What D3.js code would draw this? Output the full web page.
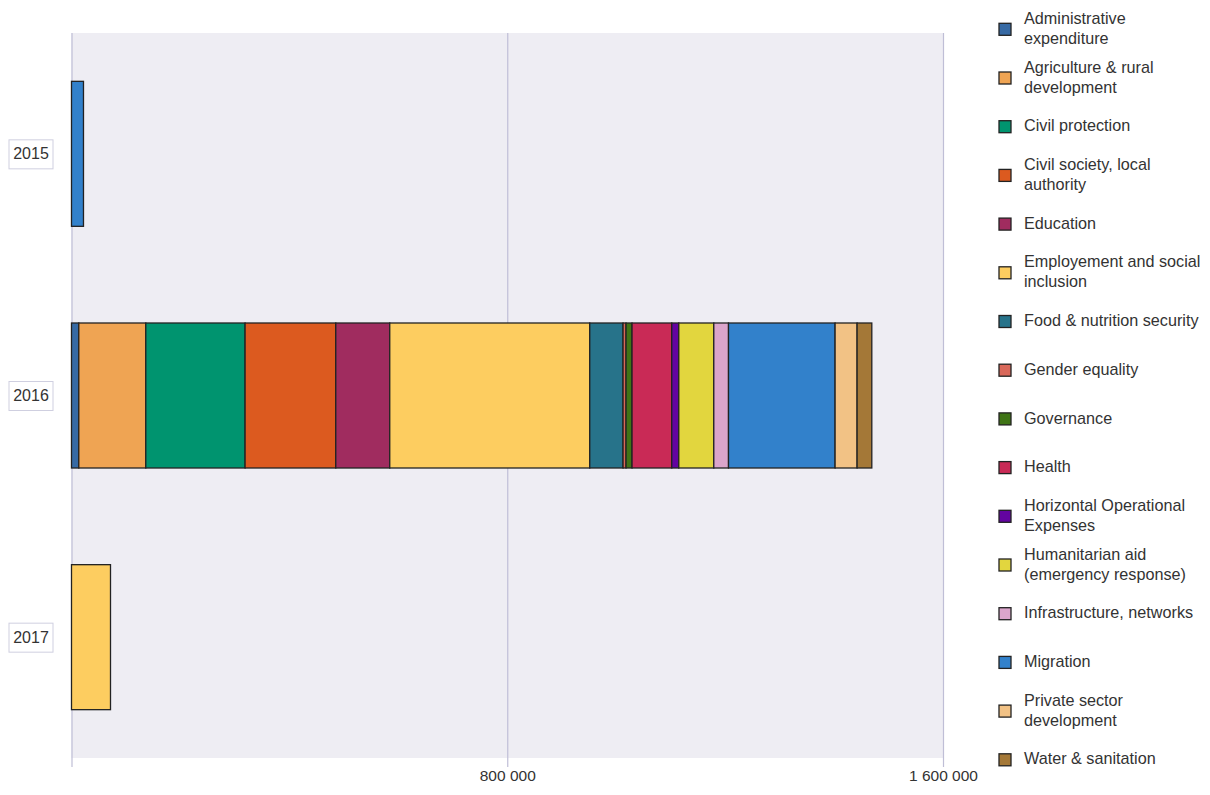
<!DOCTYPE html>
<html>
<head>
<meta charset="utf-8">
<script src="https://cdn.jsdelivr.net/npm/d3@7"></script>
<style>
  body { margin: 0; background: #fff; }
  svg text { font-family: "Liberation Sans", Arial, sans-serif; fill: #333; }
</style>
</head>
<body>
<div id="chart"></div>
<script>
'use strict'

// data
const years = ['2015', '2016', '2017']
const sectors = [
  'Administrative\nexpenditure',
  'Agriculture & rural\ndevelopment',
  'Civil protection',
  'Civil society, local\nauthority',
  'Education',
  'Employement and social\ninclusion',
  'Food & nutrition security',
  'Gender equality',
  'Governance',
  'Health',
  'Horizontal Operational\nExpenses',
  'Humanitarian aid\n(emergency response)',
  'Infrastructure, networks',
  'Migration',
  'Private sector\ndevelopment',
  'Water & sanitation'
]
const colors = ['#376aa4', '#efa453', '#00946f', '#dc5a1f', '#a02c5f', '#fdcd60', '#27738a', '#d9685a',
  '#3f7415', '#c92a56', '#6304a0', '#e2d63e', '#dba5cb', '#3281cb', '#f2c285', '#a47837']
const values2015 = [0, 0, 0, 0, 0, 0, 0, 0, 0, 0, 0, 0, 0, 22000, 0, 0]
const values2016 = [13400, 123000, 182300, 166500, 99100, 367200, 61100, 5500,
  11000, 72900, 12900, 64300, 27000, 195700, 40400, 27000]
const values2017 = [0, 0, 0, 0, 0, 71600, 0, 0, 0, 0, 0, 0, 0, 0, 0, 0]
const tickValues = [0, 800000, 1600000]

const W = 1210, H = 795
const plot = { left: 71.5, right: 943, top: 33, bottom: 758 }

const svg = d3.select('#chart').append('svg')
  .attr('width', W).attr('height', H)

// table for the stack
const table = years.map((y, i) => {
  let row = { year: y }
  let src = [values2015, values2016, values2017][i]
  sectors.forEach((s, k) => { row[s] = src[k] })
  return row
})
const stacked = d3.stack().keys(sectors)(table)

const x = d3.scaleLinear().domain([0, 1600000]).range([plot.left, plot.right])
const y = d3.scaleBand().domain(years).range([plot.top, plot.bottom]).paddingInner(0.4).paddingOuter(0.2)
const color = d3.scaleOrdinal().domain(sectors).range(colors)

// background
svg.append('rect')
  .attr('x', plot.left).attr('y', plot.top)
  .attr('width', plot.right - plot.left).attr('height', plot.bottom - plot.top)
  .attr('fill', '#eeedf3')

// grid + x labels
const fmt = d3.formatLocale({ decimal: ',', thousands: ' ', grouping: [3], currency: ['', ''] }).format(',d')
const xAxis = d3.axisBottom(x).tickValues(tickValues)
  .tickSize(-(plot.bottom - plot.top) - 9).tickPadding(-2)
  .tickFormat(d => d === 0 ? '' : fmt(d))
const gx = svg.append('g').attr('transform', `translate(0, ${plot.bottom + 9})`).call(xAxis)
gx.select('.domain').remove()
gx.selectAll('.tick line').attr('stroke', '#bfbed6').attr('stroke-width', 1.2)
gx.selectAll('.tick text').attr('font-size', 15.5).attr('dy', '1.05em')

// bars
svg.append('g').selectAll('g')
  .data(stacked)
  .join('g')
  .attr('fill', d => color(d.key))
  .selectAll('rect')
  .data(d => d.filter(p => p[1] - p[0] > 0))
  .join('rect')
  .attr('x', d => x(d[0]))
  .attr('width', d => x(d[1]) - x(d[0]))
  .attr('y', d => y(d.data.year))
  .attr('height', y.bandwidth())
  .attr('stroke', '#222')
  .attr('stroke-width', 1.3)

// year labels in boxes
const yl = svg.append('g').selectAll('g').data(years).join('g')
  .attr('transform', d => `translate(31, ${y(d) + y.bandwidth() / 2})`)
yl.append('rect')
  .attr('x', -22).attr('y', -14).attr('width', 44).attr('height', 29)
  .attr('fill', '#fff').attr('stroke', '#cfcfe0').attr('stroke-width', 1)
yl.append('text')
  .attr('text-anchor', 'middle').attr('dy', '0.35em')
  .attr('font-size', 16)
  .text(d => d)

// legend
const legendTop = 29.3, legendStep = 48.7
const lg = svg.append('g').selectAll('g').data(sectors).join('g')
  .attr('transform', (d, i) => `translate(999, ${legendTop + i * legendStep})`)
lg.append('rect')
  .attr('x', 0).attr('y', -6).attr('width', 12).attr('height', 12)
  .attr('fill', d => color(d)).attr('stroke', '#222').attr('stroke-width', 1.3)
lg.append('text')
  .attr('font-size', 16.2)
  .each(function (d) {
    let lines = d.split('\n')
    let t = d3.select(this)
    lines.forEach((ln, i) => {
      t.append('tspan')
        .attr('x', 25)
        .attr('y', (i - (lines.length - 1) / 2) * 20 - 1)
        .attr('dy', '0.35em')
        .text(ln)
    })
  })
</script>
</body>
</html>
